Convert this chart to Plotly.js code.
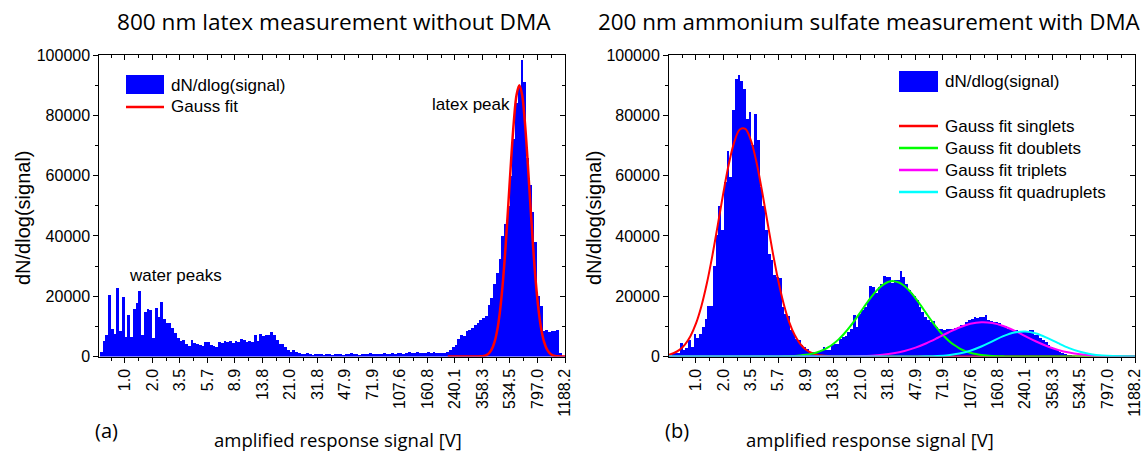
<!DOCTYPE html>
<html>
<head>
<meta charset="utf-8">
<script src="https://cdn.plot.ly/plotly-3.0.1.min.js"></script>
<style>
  html, body { margin: 0; padding: 0; background: #ffffff; }
  #chart { width: 1144px; height: 452px; }
</style>
</head>
<body>
<div id="chart"></div>
<script>
// ---------------- data ----------------
const tickLabels = ['1.0','2.0','3.5','5.7','8.9','13.8','21.0','31.8','47.9','71.9','107.6','160.8','240.1','358.3','534.5','797.0','1188.2'];

// bins on the channel axis (label k sits at channel position k)
const binWidth = 0.1;
const leftBinStart = -0.86;   // centre of first bin, panel (a)
const rightBinStart = -0.93;  // centre of first bin, panel (b)

// panel (a): 800 nm latex, dN/dlog(signal)
const leftCounts = [1500,5000,7000,20500,9000,7500,22700,8500,19800,6500,
13700,6500,15700,17700,21800,7000,14800,15600,15400,6000,
16000,13000,18000,12500,11000,11000,9500,7800,6000,5000,
5500,4300,3500,5600,4500,4000,3700,3500,4800,4700,
3800,3500,3300,4900,4500,5200,4800,5300,4500,5200,
4700,5700,5500,4900,5200,4700,7000,5000,7500,6800,
7200,7000,8000,7200,5500,4000,4300,3000,2000,1500,
2200,1500,1000,900,700,1000,800,600,900,700,
800,600,900,700,600,800,700,900,600,700,
800,1000,700,800,600,900,700,800,1100,700,
800,900,700,1000,800,900,1200,800,1000,1300,
900,1100,1400,1000,1200,1500,1100,1300,1000,1600,
1200,1400,1100,1300,1000,1200,1500,2200,3100,3900,
5800,7000,6900,8300,8800,9400,10500,11100,12200,12800,
13500,17200,19400,23900,27700,32500,40000,44000,50000,60000,
72000,84000,89500,98300,91000,66000,57000,48000,38000,20000,
16600,8300,8800,8000,8500,8600,8800,1100,300,0];

// panel (a): Gauss fit
const leftFitX = [11.74,12.64,12.74,12.84,12.94,13.04,13.14,13.24,13.34,13.44,13.54,13.64,13.74,13.84,13.94,14.04,14.14,14.24,14.34,14.44,14.54,14.64,14.74,14.84,14.94,15.04,15.14,15.24,15.34,15.44,15.54,15.64,15.74,15.84,15.94,16.04];
const leftFitY = [0,0,0,27,76,200,495,1138,2427,4824,8910,15330,24500,36480,50490,65020,77900,86800,90000,86800,77900,65020,50490,36480,24500,15330,8910,4824,2427,1138,495,200,76,27,9,3];

// panel (b): 200 nm ammonium sulfate, dN/dlog(signal)
const rightCounts = [300,700,1100,1100,4400,2000,2900,5500,3100,7500,
6200,7300,9700,12500,16600,16900,30000,40200,49800,41800,
57900,68200,59600,81900,92200,93300,91400,88600,78900,81100,
70000,80300,71700,56200,50000,41800,34100,31900,27000,26300,
26100,16400,14200,13600,8900,7500,5900,5500,3700,3100,
2500,1400,1400,1400,1500,2000,3100,2000,2200,3900,
4000,4200,5900,6400,6800,8100,9200,13700,9800,14200,
15300,16400,18100,23300,23100,20900,23100,24200,26700,26400,
26500,24500,25300,25500,28400,26400,24200,22000,21000,20000,
18700,16400,14800,13100,12000,11400,11800,9800,9200,9000,
8700,9200,9200,9000,9600,9800,10300,10500,11400,12000,
12600,13100,12800,13100,13200,13700,12000,11800,11400,11400,
11000,10300,10000,9200,9000,8700,8700,8400,8400,8300,
8300,8700,8700,7000,7000,6200,5500,4800,3800,3100,
2600,2200,1400,1200,700,600,400,200];

// panel (b): Gauss fits
const singletX = [-0.98,-0.8,-0.6,-0.4,-0.2,0,0.2,0.4,0.6,0.8,1.0,1.2,1.4,1.6,1.8,2.0,2.2,2.4,2.6,2.8,3.0,3.2,3.4,3.6,3.8,4.0,4.2,4.4,4.6,4.8,5.0,5.2,16];
const singletY = [600,1157,2193,3945,6727,10873,16690,24270,33470,43760,54270,63830,71180,75280,75500,71810,64770,55390,44930,34550,25210,17440,11430,7110,4195,2345,1244,626,299,135,58,24,0];

const doubletX = [-0.98,3.0,3.2,3.4,3.6,3.8,4.0,4.2,4.4,4.6,4.8,5.0,5.2,5.4,5.6,5.8,6.0,6.2,6.4,6.6,6.8,7.0,7.2,7.4,7.6,7.8,8.0,8.2,8.4,8.6,8.8,9.0,9.2,9.4,9.6,9.8,10.0,10.2,10.4,10.6,10.8,11.0,11.2,11.4,16];
const doubletY = [0,0,63,113,197,333,547,871,1346,2017,2936,4146,5680,7548,9728,12170,14770,17390,19860,22010,23670,24700,25000,24550,23390,21620,19390,16870,14240,11670,9268,7145,5345,3880,2732,1866,1237,795,496,300,176,100,55,0,0];

const tripletX = [-0.98,4.8,5.2,5.6,6.0,6.4,6.8,7.2,7.6,8.0,8.4,8.8,9.2,9.6,10.0,10.4,10.8,11.2,11.6,12.0,12.4,12.8,13.2,13.6,14.0,14.4,14.8,15.2,15.6,16.0];
const tripletY = [0,0,24,59,134,287,571,1059,1829,2938,4399,6133,7966,9635,10854,11388,11128,10127,8584,6776,4982,3412,2176,1293,715,368,177,79,33,13];

const quadX = [-0.98,6.8,7.2,7.6,8.0,8.4,8.8,9.2,9.6,10.0,10.4,10.8,11.2,11.6,12.0,12.4,12.8,13.2,13.6,14.0,14.4,14.8,15.2,15.6,16.0];
const quadY = [0,0,1,5,20,63,179,449,990,1931,3319,5034,6737,7954,8284,7612,6171,4414,2785,1550,762,330,126,43,13];

// ---------------- helpers ----------------
const W = 1144, H = 452;
const px = v => v / W;
const py = v => 1 - v / H;
const binCentres = (start, n) => Array.from({length: n}, (_, i) => +(start + i * binWidth).toFixed(3));

const tickVals = tickLabels.map((_, i) => i);
const minorVals = [-0.5].concat(tickLabels.map((_, i) => i + 0.5)).filter(v => v < 16);

const ARIAL = 'Liberation Sans, Arial, sans-serif';
const TITLEF = 'Open Sans, sans-serif';
const BLUE = '#0000ff';

const leftRange = [-0.93, 16];
const rightRange = [-0.98, 16];
const yRange = [0, 100000];

const yDom = [py(356.5), py(55)];
const leftDom = [px(99.3), px(565)];
const rightDom = [px(669), px(1135)];

function xAxisBase(dom, range) {
  return {
    domain: dom, range: range, showgrid: false, zeroline: false,
    showline: true, linecolor: '#000', linewidth: 1,
    tickmode: 'array', tickvals: tickVals, ticktext: tickLabels,
    ticks: 'outside', ticklen: 5, tickwidth: 1, tickcolor: '#000',
    tickangle: -90, tickfont: {family: ARIAL, size: 16, color: '#000'},
    minor: {tickmode: 'array', tickvals: minorVals, ticks: 'outside', ticklen: 3, tickwidth: 1, tickcolor: '#000', showgrid: false},
    fixedrange: true
  };
}
function xAxisMirror(dom, range, over, anchor) {
  return {
    domain: dom, range: range, overlaying: over, side: 'top', anchor: anchor,
    showgrid: false, zeroline: false, showline: true, linecolor: '#000', linewidth: 1,
    tickmode: 'array', tickvals: tickVals, showticklabels: false,
    ticks: 'inside', ticklen: 5, tickwidth: 1, tickcolor: '#000',
    minor: {tickmode: 'array', tickvals: minorVals, ticks: 'inside', ticklen: 3, tickwidth: 1, tickcolor: '#000', showgrid: false},
    fixedrange: true
  };
}
function yAxisBase(anchor) {
  return {
    domain: yDom, range: yRange, anchor: anchor, showgrid: false, zeroline: false,
    showline: true, linecolor: '#000', linewidth: 1,
    tickmode: 'linear', tick0: 0, dtick: 20000, tickformat: 'd',
    ticks: 'outside', ticklen: 5, tickwidth: 1, tickcolor: '#000',
    tickfont: {family: ARIAL, size: 16, color: '#000'},
    minor: {tickmode: 'linear', tick0: 0, dtick: 10000, ticks: 'outside', ticklen: 3, tickwidth: 1, tickcolor: '#000', showgrid: false},
    fixedrange: true
  };
}
function yAxisMirror(over, anchor) {
  return {
    domain: yDom, range: yRange, overlaying: over, side: 'right', anchor: anchor,
    showgrid: false, zeroline: false, showline: true, linecolor: '#000', linewidth: 1,
    tickmode: 'linear', tick0: 0, dtick: 20000, showticklabels: false,
    ticks: 'inside', ticklen: 5, tickwidth: 1, tickcolor: '#000',
    minor: {tickmode: 'linear', tick0: 0, dtick: 10000, ticks: 'inside', ticklen: 3, tickwidth: 1, tickcolor: '#000', showgrid: false},
    fixedrange: true
  };
}

// ---------------- traces ----------------
const traces = [
  {type: 'bar', x: binCentres(leftBinStart, leftCounts.length), y: leftCounts, width: binWidth,
   marker: {color: BLUE, line: {width: 0}}, xaxis: 'x', yaxis: 'y', showlegend: false, hoverinfo: 'skip'},
  {type: 'scatter', mode: 'lines', x: leftFitX, y: leftFitY, line: {color: '#ff0000', width: 2.5, shape: 'spline'},
   xaxis: 'x', yaxis: 'y', showlegend: false, hoverinfo: 'skip', cliponaxis: true},

  {type: 'bar', x: binCentres(rightBinStart, rightCounts.length), y: rightCounts, width: binWidth,
   marker: {color: BLUE, line: {width: 0}}, xaxis: 'x2', yaxis: 'y2', showlegend: false, hoverinfo: 'skip'},
  {type: 'scatter', mode: 'lines', x: singletX, y: singletY, line: {color: '#ff0000', width: 2, shape: 'spline'},
   xaxis: 'x2', yaxis: 'y2', showlegend: false, hoverinfo: 'skip'},
  {type: 'scatter', mode: 'lines', x: doubletX, y: doubletY, line: {color: '#00ff00', width: 2, shape: 'spline'},
   xaxis: 'x2', yaxis: 'y2', showlegend: false, hoverinfo: 'skip'},
  {type: 'scatter', mode: 'lines', x: tripletX, y: tripletY, line: {color: '#ff00ff', width: 2, shape: 'spline'},
   xaxis: 'x2', yaxis: 'y2', showlegend: false, hoverinfo: 'skip'},
  {type: 'scatter', mode: 'lines', x: quadX, y: quadY, line: {color: '#00ffff', width: 2, shape: 'spline'},
   xaxis: 'x2', yaxis: 'y2', showlegend: false, hoverinfo: 'skip'},

  // carriers for the mirrored (top / right) axes
  {type: 'scatter', mode: 'lines', x: [null], y: [null], xaxis: 'x3', yaxis: 'y3', showlegend: false, hoverinfo: 'skip'},
  {type: 'scatter', mode: 'lines', x: [null], y: [null], xaxis: 'x4', yaxis: 'y4', showlegend: false, hoverinfo: 'skip'}
];

// ---------------- annotations ----------------
function txt(text, x, y, opts) {
  return Object.assign({
    text: text, xref: 'paper', yref: 'paper', x: px(x), y: py(y),
    xanchor: 'center', yanchor: 'middle', showarrow: false,
    font: {family: ARIAL, size: 17, color: '#000'}
  }, opts || {});
}

const annotations = [
  txt('800 nm latex measurement without DMA', 334, 22, {font: {family: TITLEF, size: 22.6, color: '#000'}}),
  txt('200 nm ammonium sulfate measurement with DMA', 869, 22, {font: {family: TITLEF, size: 22.4, color: '#000'}}),
  txt('(a)', 106, 430, {font: {family: TITLEF, size: 20, color: '#000'}}),
  txt('(b)', 677, 430, {font: {family: TITLEF, size: 20, color: '#000'}}),
  txt('amplified response signal [V]', 338, 439, {font: {family: TITLEF, size: 18.5, color: '#000'}}),
  txt('amplified response signal [V]', 870, 439, {font: {family: TITLEF, size: 18.5, color: '#000'}}),
  txt('dN/dlog(signal)', 23, 218, {textangle: -90, font: {family: ARIAL, size: 20, color: '#000'}}),
  txt('dN/dlog(signal)', 594, 218, {textangle: -90, font: {family: ARIAL, size: 20, color: '#000'}}),
  txt('water peaks', 175, 275),
  txt('latex peak', 471, 105),
  // legend (a)
  txt('dN/dlog(signal)', 169, 85, {xanchor: 'left'}),
  txt('Gauss fit', 169, 107, {xanchor: 'left'}),
  // legend (b)
  txt('dN/dlog(signal)', 943, 82, {xanchor: 'left'}),
  txt('Gauss fit singlets', 943, 126, {xanchor: 'left'}),
  txt('Gauss fit doublets', 943, 148, {xanchor: 'left'}),
  txt('Gauss fit triplets', 943, 170, {xanchor: 'left'}),
  txt('Gauss fit quadruplets', 943, 192, {xanchor: 'left'})
];

function box(x0, y0, x1, y1, color) {
  return {type: 'rect', xref: 'paper', yref: 'paper', x0: px(x0), x1: px(x1), y0: py(y1), y1: py(y0),
          fillcolor: color, line: {width: 0}, layer: 'above'};
}
function seg(x0, x1, y, color) {
  return {type: 'line', xref: 'paper', yref: 'paper', x0: px(x0), x1: px(x1), y0: py(y), y1: py(y),
          line: {color: color, width: 2.5}, layer: 'above'};
}
const shapes = [
  box(126, 75, 164, 94, BLUE),
  seg(126, 164, 107, '#ff0000'),
  box(899, 71, 938, 92, BLUE),
  seg(899, 938, 126, '#ff0000'),
  seg(899, 938, 148, '#00ff00'),
  seg(899, 938, 170, '#ff00ff'),
  seg(899, 938, 192, '#00ffff')
];

const layout = {
  width: W, height: H,
  margin: {l: 0, r: 0, t: 0, b: 0, pad: 0},
  paper_bgcolor: '#ffffff', plot_bgcolor: '#ffffff',
  showlegend: false, barmode: 'overlay', bargap: 0,
  font: {family: ARIAL, color: '#000'},
  xaxis: Object.assign(xAxisBase(leftDom, leftRange), {anchor: 'y'}),
  yaxis: yAxisBase('x'),
  xaxis2: Object.assign(xAxisBase(rightDom, rightRange), {anchor: 'y2'}),
  yaxis2: yAxisBase('x2'),
  xaxis3: xAxisMirror(leftDom, leftRange, 'x', 'y3'),
  yaxis3: yAxisMirror('y', 'x3'),
  xaxis4: xAxisMirror(rightDom, rightRange, 'x2', 'y4'),
  yaxis4: yAxisMirror('y2', 'x4'),
  annotations: annotations,
  shapes: shapes
};

Plotly.newPlot('chart', traces, layout, {staticPlot: true, displayModeBar: false});
</script>
</body>
</html>
